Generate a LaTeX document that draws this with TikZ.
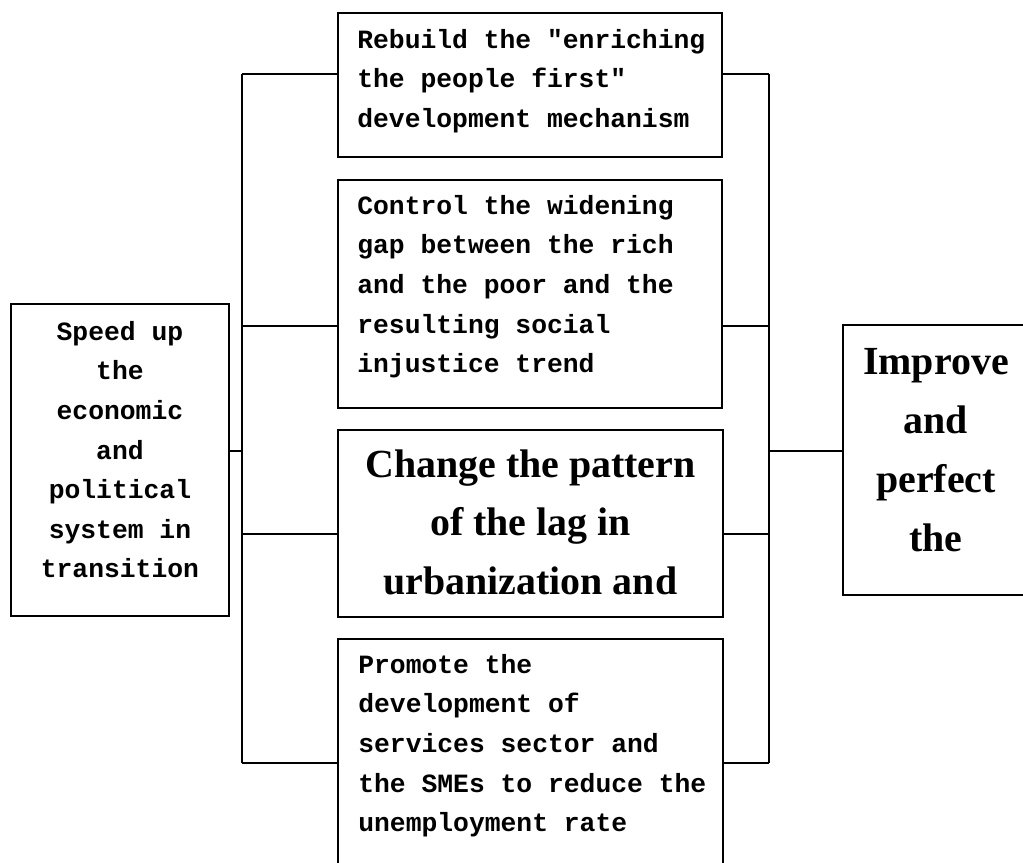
\documentclass[tikz,border=0pt]{standalone}
\usepackage{fontspec}
\setmainfont{Liberation Serif}
\setmonofont{Liberation Mono}
\usetikzlibrary{calc}

\begin{document}
\begin{tikzpicture}[x=0.02cm,y=-0.02cm,
    boxline/.style={draw,line width=1.1pt,inner sep=0pt,anchor=north west},
    wire/.style={line width=0.95pt},
    monotext/.style={inner sep=0pt,font=\ttfamily\bfseries\fontsize{15pt}{22.5pt}\selectfont},
    serftext/.style={inner sep=0pt,align=center,font=\bfseries\fontsize{22.7pt}{33.5pt}\selectfont}]

% Page frame, the lower box runs off the page.
\useasboundingbox (0,0) rectangle (1023,862);
\clip (0,0) rectangle (1023,862);

%
% Left box: the starting point.
\node[boxline,minimum width=4.36cm,minimum height=6.24cm] (lbox) at (10,303) {};
\node[monotext,align=center,anchor=north]
    (lboxtxt) at ([shift={(0,18)}]lbox.north)
    {Speed up\\the\\economic\\and\\political\\system in\\transition};

%
% Four measure boxes in the middle column.
\node[boxline,minimum width=7.68cm,minimum height=2.88cm] (b1) at (337,12) {};
\node[boxline,minimum width=7.68cm,minimum height=4.56cm] (b2) at (337,179) {};
\node[boxline,minimum width=7.70cm,minimum height=3.74cm] (b3) at (337,429) {};
\node[boxline,minimum width=7.70cm,minimum height=5.24cm] (b4) at (337,638) {};

% Texts of the measure boxes.
\node[monotext,align=left,anchor=north west]
    (b1txt) at ([shift={(20,17)}]b1.north west)
    {Rebuild the "enriching\\the people first"\\development mechanism};
\node[monotext,align=left,anchor=north west]
    (b2txt) at ([shift={(20,16)}]b2.north west)
    {Control the widening\\gap between the rich\\and the poor and the\\resulting social\\injustice trend};
\node[serftext,anchor=north]
    (b3txt) at ([shift={(0,20)}]b3.north)
    {Change the pattern\\of the lag in\\urbanization and};
\node[monotext,align=left,anchor=north west]
    (b4txt) at ([shift={(21,16)}]b4.north west)
    {Promote the\\development of\\services sector and\\the SMEs to reduce the\\unemployment rate};

%
% Right box: the goal.
\node[boxline,minimum width=3.72cm,minimum height=5.40cm] (rbox) at (842,324) {};
\node[serftext,anchor=north]
    (rboxtxt) at ([shift={(0,24)}]rbox.north)
    {Improve\\and\\perfect\\the};

%
% Two vertical bus lines.
\coordinate (lbus) at (242,0);
\coordinate (rbus) at (769,0);
\coordinate (bustop) at (0,74);
\coordinate (busbot) at (0,763);
\draw[wire] (lbus |- bustop) -- (lbus |- busbot);
\draw[wire] (rbus |- bustop) -- (rbus |- busbot);

% Left box and right box to their bus.
\coordinate (mid) at (0,451);
\draw[wire] (lbox.east |- mid) -- (lbus |- mid);
\draw[wire] (rbus |- mid) -- (rbox.west |- mid);

% Loop for each measure box, tie both sides to the buses.
\foreach \b/\y in {b1/74,b2/326,b3/534,b4/763} {
    \coordinate (c\b) at (0,\y);
    \draw[wire] (lbus |- c\b) -- (\b.west |- c\b);
    \draw[wire] (\b.east |- c\b) -- (rbus |- c\b);
}

\end{tikzpicture}
\end{document}
